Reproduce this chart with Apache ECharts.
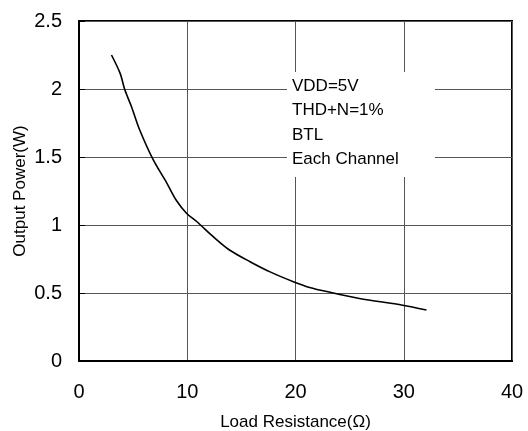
<!DOCTYPE html>
<html>
<head>
<meta charset="utf-8">
<script src="https://cdn.jsdelivr.net/npm/echarts@6/dist/echarts.min.js"></script>
<style>
html,body{margin:0;padding:0;background:#fff;}
#c{width:528px;height:431px;}
</style>
</head>
<body>
<div id="c"></div>
<script>
// Load resistance (ohm)
var loadResistance = [3.0, 3.8, 4.25, 4.85, 5.6, 6.85, 8.1, 9.0, 9.95, 10.9, 12.4, 13.9, 15.8, 17.6, 19.8, 21.3, 23.2, 25.9, 29.9, 32.1];
// Output power (W)
var outputPower = [2.25, 2.115, 1.99, 1.87, 1.70, 1.48, 1.31, 1.18, 1.085, 1.024, 0.914, 0.816, 0.73, 0.657, 0.583, 0.541, 0.505, 0.46, 0.41, 0.375];
var xTicks = [0, 10, 20, 30, 40];
var yTicks = [0, 0.5, 1, 1.5, 2, 2.5];
var annotationLines = ['VDD=5V', 'THD+N=1%', 'BTL', 'Each Channel'];

var font = 'Liberation Sans, Arial, sans-serif';
var chart = echarts.init(document.getElementById('c'));
var pts = loadResistance.map(function (x, i) { return [x, outputPower[i]]; });

chart.setOption({
  animation: false,
  backgroundColor: '#ffffff',
  grid: { left: 79, right: 16, top: 21, bottom: 70, outerBoundsMode: 'none', containLabel: false,
    show: true, borderColor: '#000', borderWidth: 2, backgroundColor: 'transparent' },
  xAxis: {
    type: 'value', min: xTicks[0], max: xTicks[xTicks.length - 1], interval: 10,
    name: 'Load Resistance(Ω)', nameLocation: 'middle', nameGap: 53,
    nameTextStyle: { fontFamily: font, fontSize: 17, color: '#000' },
    axisLine: { show: true, lineStyle: { color: '#000', width: 2 } },
    axisTick: { show: false },
    axisLabel: { fontFamily: font, fontSize: 20, color: '#000', margin: 21 },
    splitLine: { show: true, lineStyle: { color: '#555', width: 1 } }
  },
  yAxis: {
    type: 'value', min: yTicks[0], max: yTicks[yTicks.length - 1], interval: 0.5,
    name: 'Output Power(W)', nameLocation: 'middle', nameGap: 50, nameRotate: 90,
    nameMoveOverlap: false,
    nameTextStyle: { fontFamily: font, fontSize: 17, color: '#000' },
    axisLine: { show: true, lineStyle: { color: '#000', width: 2 } },
    axisTick: { show: true, inside: true, length: 6, lineStyle: { color: '#000', width: 1 } },
    axisLabel: { fontFamily: font, fontSize: 20, color: '#000', margin: 17,
      formatter: function (v) { return String(v); } },
    splitLine: { show: true, lineStyle: { color: '#555', width: 1 } }
  },
  graphic: [
    { type: 'rect', left: 287, top: 72, shape: { width: 148, height: 105 }, style: { fill: '#fff' }, z: 50 },
    { type: 'text', left: 292, top: 74, z: 51,
      style: { text: annotationLines.join('\n'), fontFamily: font, fontSize: 17, lineHeight: 24.5, fill: '#000' } }
  ],
  series: [{
    type: 'line', data: pts, smooth: 0.3, showSymbol: false,
    lineStyle: { color: '#000', width: 1.6 }, z: 3
  }]
});
</script>
</body>
</html>
